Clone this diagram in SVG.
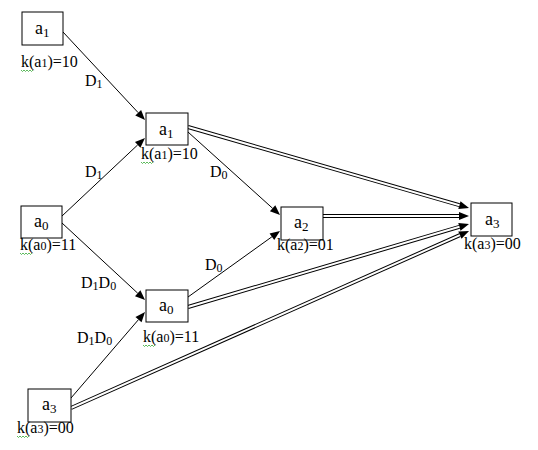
<svg xmlns="http://www.w3.org/2000/svg" width="538" height="450" viewBox="0 0 538 450">
<style>
.box{fill:#fff;stroke:#000;stroke-width:1}
text{font-family:"Liberation Serif","Times New Roman",serif;fill:#000}
.nl{font-size:18px}
.lb{font-size:16px}
.sub{font-size:12px}
.nl .sub{font-size:13px}
.ln{fill:none;stroke:#000;stroke-width:1;marker-end:url(#ah)}
.dbo{fill:none;stroke:#000;stroke-width:4;marker-end:url(#ah)}
.dbi{fill:none;stroke:#fff;stroke-width:2}
.sq{fill:none;stroke:#3a3;stroke-width:0.8}
</style>
<defs>
<marker id="ah" markerUnits="userSpaceOnUse" viewBox="0 -4.5 10 9" markerWidth="10" markerHeight="9" refX="0" refY="0" orient="auto" overflow="visible">
<path d="M0,-4 L10,0 L0,4 z" fill="#000"/>
</marker>
</defs>
<g id="connectors">
<line class="ln" x1="63" y1="32" x2="138.2" y2="112.7"/>
<line class="ln" x1="62" y1="216" x2="137.7" y2="144.9"/>
<line class="ln" x1="62" y1="223" x2="137.7" y2="293.2"/>
<line class="ln" x1="71" y1="398" x2="138.5" y2="319.6"/>
<line class="ln" x1="188" y1="132" x2="272.6" y2="208.3"/>
<line class="ln" x1="188" y1="297" x2="271.9" y2="236.8"/>
<line class="dbo" x1="188" y1="127" x2="459.4" y2="205.2"/>
<line class="dbi" x1="188" y1="127" x2="459.4" y2="205.2"/>
<line class="dbo" x1="323" y1="216" x2="459" y2="216"/>
<line class="dbi" x1="323" y1="216" x2="459" y2="216"/>
<line class="dbo" x1="188" y1="307" x2="459.4" y2="226.8"/>
<line class="dbi" x1="188" y1="307" x2="459.4" y2="226.8"/>
<line class="dbo" x1="71" y1="408" x2="459.9" y2="235.1"/>
<line class="dbi" x1="71" y1="408" x2="459.9" y2="235.1"/>
<text class="lb" x="85" y="86">D<tspan class="sub" dy="2">1</tspan></text>
<text class="lb" x="85" y="177">D<tspan class="sub" dy="2">1</tspan></text>
<text class="lb" x="210" y="177">D<tspan class="sub" dy="2">0</tspan></text>
<text class="lb" x="205" y="270">D<tspan class="sub" dy="2">0</tspan></text>
<text class="lb" x="81" y="288">D<tspan class="sub" dy="2">1</tspan><tspan dy="-2">D</tspan><tspan class="sub" dy="2">0</tspan></text>
<text class="lb" x="77" y="343">D<tspan class="sub" dy="2">1</tspan><tspan dy="-2">D</tspan><tspan class="sub" dy="2">0</tspan></text>
</g>
<g id="node-a1-top">
<rect class="box" x="22" y="12" width="41" height="33"/>
<text class="nl" x="35" y="34">a<tspan class="sub" dy="3">1</tspan></text>
<text class="lb" x="21" y="67">k(a<tspan class="sub">1</tspan>)=10</text>
<path class="sq" d="M21,70 l1.5,1.5 l1.5,-1.5 l1.5,1.5 l1.5,-1.5 l1.5,1.5 l1.5,-1.5 l1.5,1.5 l1.5,-1.5"/>
</g>
<g id="node-a1-mid">
<rect class="box" x="146" y="113" width="42" height="32"/>
<text class="nl" x="159" y="135">a<tspan class="sub" dy="3">1</tspan></text>
<text class="lb" x="141" y="159">k(a<tspan class="sub">1</tspan>)=10</text>
<path class="sq" d="M141,162 l1.5,1.5 l1.5,-1.5 l1.5,1.5 l1.5,-1.5 l1.5,1.5 l1.5,-1.5 l1.5,1.5 l1.5,-1.5"/>
</g>
<g id="node-a2">
<rect class="box" x="281" y="207" width="42" height="33"/>
<text class="nl" x="294" y="228">a<tspan class="sub" dy="3">2</tspan></text>
<text class="lb" x="277" y="250">k(a<tspan class="sub">2</tspan>)=01</text>
</g>
<g id="node-a0-left">
<rect class="box" x="21" y="206" width="41" height="32"/>
<text class="nl" x="34" y="227">a<tspan class="sub" dy="3">0</tspan></text>
<text class="lb" x="20" y="250">k(a<tspan class="sub">0</tspan>)=11</text>
<path class="sq" d="M20,253 l1.5,1.5 l1.5,-1.5 l1.5,1.5 l1.5,-1.5 l1.5,1.5 l1.5,-1.5 l1.5,1.5 l1.5,-1.5"/>
</g>
<g id="node-a0-mid">
<rect class="box" x="146" y="290" width="42" height="32"/>
<text class="nl" x="159" y="311">a<tspan class="sub" dy="3">0</tspan></text>
<text class="lb" x="143" y="342">k(a<tspan class="sub">0</tspan>)=11</text>
<path class="sq" d="M143,345 l1.5,1.5 l1.5,-1.5 l1.5,1.5 l1.5,-1.5 l1.5,1.5 l1.5,-1.5 l1.5,1.5 l1.5,-1.5"/>
</g>
<g id="node-a3-left">
<rect class="box" x="28" y="389" width="43" height="33"/>
<text class="nl" x="42" y="410">a<tspan class="sub" dy="3">3</tspan></text>
<text class="lb" x="17" y="433">k(a<tspan class="sub">3</tspan>)=00</text>
<path class="sq" d="M17,436 l1.5,1.5 l1.5,-1.5 l1.5,1.5 l1.5,-1.5 l1.5,1.5 l1.5,-1.5 l1.5,1.5 l1.5,-1.5"/>
</g>
<g id="node-a3-right">
<rect class="box" x="471" y="203" width="41" height="33"/>
<text class="nl" x="485" y="225">a<tspan class="sub" dy="3">3</tspan></text>
<text class="lb" x="464" y="249">k(a<tspan class="sub">3</tspan>)=00</text>
</g>
</svg>
